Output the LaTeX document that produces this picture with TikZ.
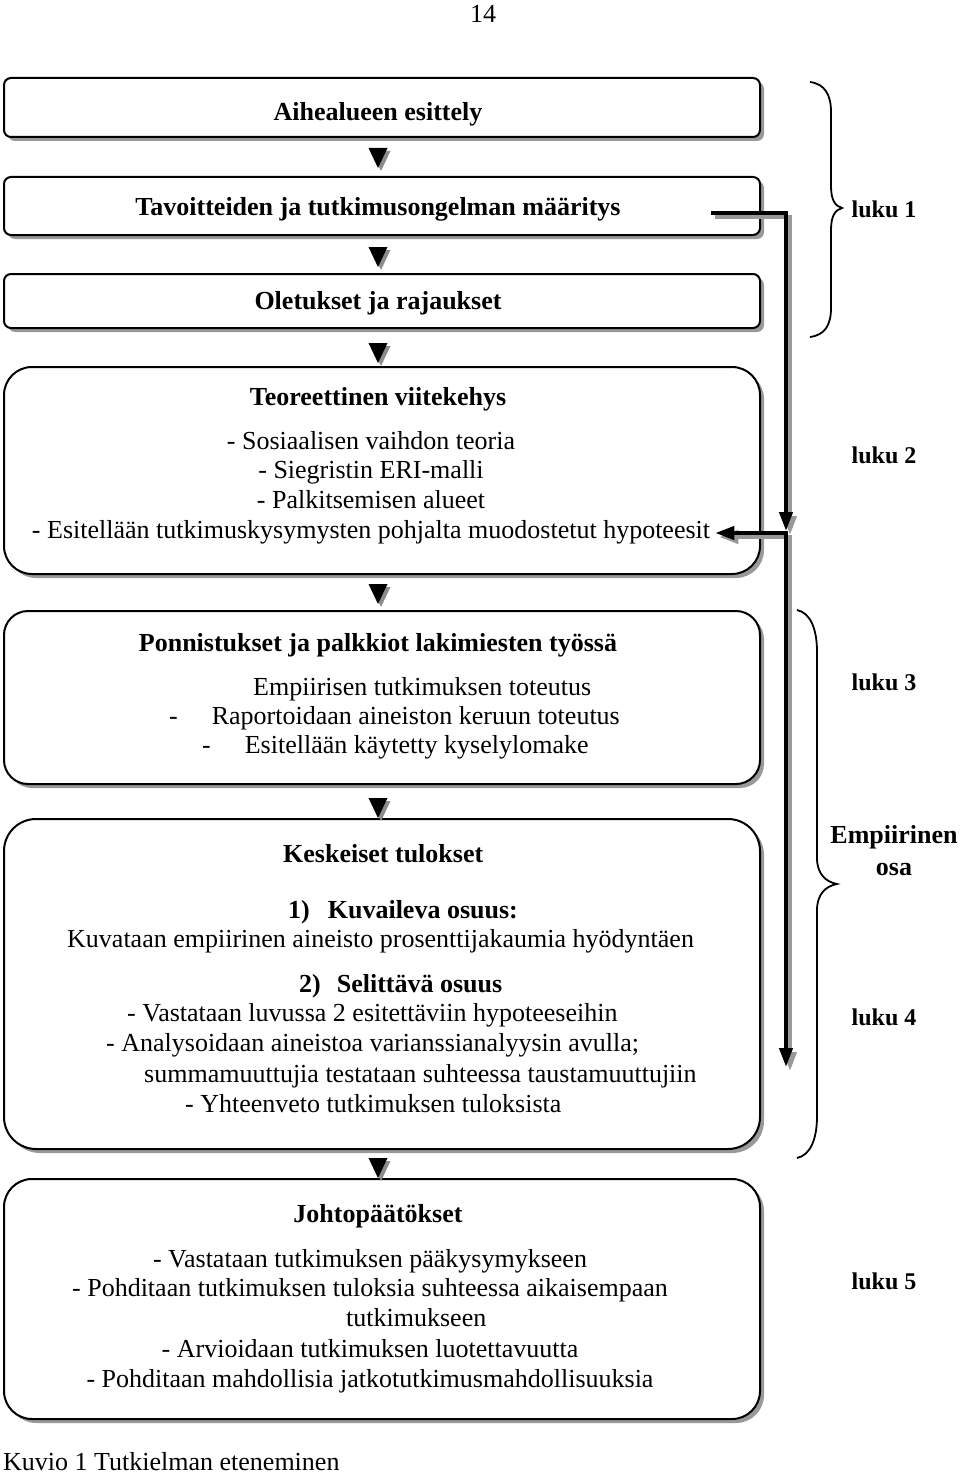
\documentclass[tikz,border=0pt]{standalone}
\usepackage{fontspec}
\setmainfont{Liberation Serif}
\usetikzlibrary{arrows.meta,shadows}
\newcommand\downtri[2]{%
  \fill[trish] (#1-9.5+3,#2+3) -- (#1+9.5+3,#2+3) -- (#1+3,#2+23) -- cycle;
  \fill[tri] (#1-9.5,#2) -- (#1+9.5,#2) -- (#1,#2+20) -- cycle;}
\begin{document}
\begin{tikzpicture}[x=1pt,y=-1pt,
  box/.style={draw=black, line width=2pt, fill=white, anchor=north west,
    minimum width=756pt, inner sep=0pt,
    drop shadow={shadow xshift=4pt, shadow yshift=-4pt, fill=black!40, opacity=1}},
  rt/.style={font=\fontsize{26pt}{30pt}\selectfont, inner sep=0pt, anchor=base},
  bt/.style={font=\fontsize{26pt}{30pt}\selectfont\bfseries, inner sep=0pt, anchor=base},
  lab/.style={font=\fontsize{24pt}{28pt}\selectfont\bfseries, inner sep=0pt, anchor=base},
  conn/.style={line width=4pt, line join=miter, -{Triangle[length=19pt,width=13pt]}},
  connsh/.style={conn, draw=black!40, transform canvas={shift={(4pt,-4pt)}}},
  brc/.style={line width=1.8pt},
  tri/.style={fill=black},
  trish/.style={fill=black!45},
]
\useasboundingbox (0,0) rectangle (960,1474);
\fill[white] (0,0) rectangle (960,1474);

% boxes
\node[box, minimum height=59pt, rounded corners=7pt] (b1) at (3,77) {};
\node[box, minimum height=58pt, rounded corners=7pt] (b2) at (3,176) {};
\node[box, minimum height=54pt, rounded corners=7pt] (b3) at (3,273) {};
\node[box, minimum height=207pt, rounded corners=28pt] (b4) at (3,366) {};
\node[box, minimum height=173pt, rounded corners=24pt] (b5) at (3,610) {};
\node[box, minimum height=330pt, rounded corners=32pt] (b6) at (3,818) {};
\node[box, minimum height=240pt, rounded corners=28pt] (b7) at (3,1178) {};

% triangles between boxes
\downtri{378}{148}
\downtri{378}{247}
\downtri{378}{343}
\downtri{378}{584}
\downtri{378}{798}
\downtri{378}{1158}

% page number
\node[rt] (pg) at (483,23) {14};

% box texts
\node[bt] (t1) at (378,121) {Aihealueen esittely};
\node[bt] (t2) at (378,215) {Tavoitteiden ja tutkimusongelman määritys};
\node[bt] (t3) at (378,309) {Oletukset ja rajaukset};

\node[bt] (t4) at (378,405) {Teoreettinen viitekehys};
\node[rt] (t4a) at (371,449) {- Sosiaalisen vaihdon teoria};
\node[rt] (t4b) at (371,478) {- Siegristin ERI-malli};
\node[rt] (t4c) at (371,508) {- Palkitsemisen alueet};
\node[rt] (t4d) at (371,538) {- Esitellään tutkimuskysymysten pohjalta muodostetut hypoteesit};

\node[bt] (t5) at (378,651) {Ponnistukset ja palkkiot lakimiesten työssä};
\node[rt, anchor=base west] (t5a) at (253,695) {Empiirisen tutkimuksen toteutus};
\node[rt, anchor=base west] (t5b) at (169,724) {-\hspace{34pt}Raportoidaan aineiston keruun toteutus};
\node[rt, anchor=base west] (t5c) at (202,753) {-\hspace{34pt}Esitellään käytetty kyselylomake};

\node[bt, anchor=base west] (t6) at (283,862) {Keskeiset tulokset};
\node[bt, anchor=base west] (t6a) at (288,918) {1)\hspace{18pt}Kuvaileva osuus:};
\node[rt, anchor=base west] (t6b) at (67,947) {Kuvataan empiirinen aineisto prosenttijakaumia hyödyntäen};
\node[bt, anchor=base west] (t6c) at (299,992) {2)\hspace{16pt}Selittävä osuus};
\node[rt, anchor=base west] (t6d) at (127,1021) {- Vastataan luvussa 2 esitettäviin hypoteeseihin};
\node[rt, anchor=base west] (t6e) at (106,1051) {- Analysoidaan aineistoa varianssianalyysin avulla;};
\node[rt, anchor=base west] (t6f) at (144,1082) {summamuuttujia testataan suhteessa taustamuuttujiin};
\node[rt, anchor=base west] (t6g) at (185,1112) {- Yhteenveto tutkimuksen tuloksista};

\node[bt] (t7) at (378,1222) {Johtopäätökset};
\node[rt] (t7a) at (370,1267) {- Vastataan tutkimuksen pääkysymykseen};
\node[rt] (t7b) at (370,1296) {- Pohditaan tutkimuksen tuloksia suhteessa aikaisempaan};
\node[rt, anchor=base west] (t7c) at (346,1326) {tutkimukseen};
\node[rt] (t7d) at (370,1357) {- Arvioidaan tutkimuksen luotettavuutta};
\node[rt] (t7e) at (370,1387) {- Pohditaan mahdollisia jatkotutkimusmahdollisuuksia};

\node[rt, anchor=base west] (cap) at (3,1470) {Kuvio 1 Tutkielman eteneminen};

% right labels
\node[lab] (l1) at (884,217) {luku 1};
\node[lab] (l2) at (884,463) {luku 2};
\node[lab] (l3) at (884,690) {luku 3};
\node[bt] (emp) at (894,843) {Empiirinen};
\node[bt] (osa) at (894,875) {osa};
\node[lab] (l4) at (884,1025) {luku 4};
\node[lab] (l5) at (884,1289) {luku 5};

% braces
\draw[brc] (810,82) .. controls (825,84) and (831,95) .. (831,112) -- (831,186)
  .. controls (831,200) and (835,206) .. (842,208)
  .. controls (835,210) and (831,216) .. (831,230) -- (831,308)
  .. controls (831,325) and (825,335) .. (810,337);
\draw[brc] (797,610) .. controls (811,613) and (817,630) .. (817,652) -- (817,858)
  .. controls (817,874) and (826,882) .. (837,884)
  .. controls (826,886) and (817,894) .. (817,910) -- (817,1116)
  .. controls (817,1138) and (811,1155) .. (797,1158);

% connectors
\coordinate (s) at (711,213);
\coordinate (c) at (786,213);
\coordinate (jt) at (786,531);
\coordinate (j) at (788,533);
\coordinate (jv) at (786,533);
\coordinate (e) at (786,1067);
\coordinate (h) at ([xshift=5pt]t4d.east);

\draw[connsh] (s) -- (c) -- (jt);
\draw[connsh] (j) -- (j -| h);
\draw[connsh] (jv) -- (e);
\draw[conn] (s) -- (c) -- (jt);
\draw[conn] (j) -- (j -| h);
\draw[conn] (jv) -- (e);
\end{tikzpicture}
\end{document}
